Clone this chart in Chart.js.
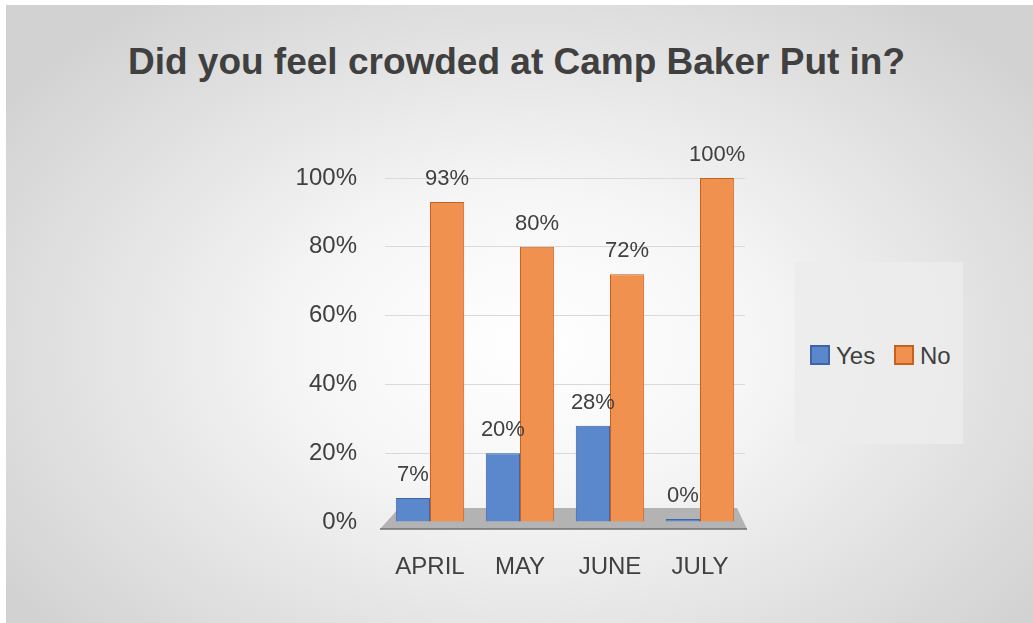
<!DOCTYPE html>
<html>
<head>
<meta charset="utf-8">
<script src="https://cdn.jsdelivr.net/npm/chart.js@4"></script>
<style>
  html, body { margin: 0; padding: 0; background: #fff; }
  #wrap {
    position: absolute; left: 6px; top: 5px; width: 1027px; height: 618px;
    background: radial-gradient(ellipse 62% 70% at 51% 55%, #ffffff 0%, #f6f6f6 35%, #d2d2d2 100%);
    font-family: "Liberation Sans", Arial, sans-serif;
  }
  #title {
    position: absolute; left: 0; top: 36px; width: 1033px; margin-left: -6px;
    text-align: center; font-weight: bold; font-size: 37px; color: #404040;
  }
  #legend {
    position: absolute; left: 789px; top: 257px; width: 168px; height: 182px;
    background: rgba(236, 236, 236, 0.85);
  }
  #legend .item { position: absolute; top: 82px; font-size: 24px; color: #404040; line-height: 24px; }
  #legend .box { display: inline-block; width: 16px; height: 16px; vertical-align: -1px; margin-right: 6px; border: 2px solid; }
  canvas { position: absolute; left: 0; top: 0; }
</style>
</head>
<body>
<div id="wrap">
  <div id="title">Did you feel crowded at Camp Baker Put in?</div>
  <div id="legend">
    <div class="item" style="left:15px"><span class="box" style="background:#5b87cc;border-color:#3d66a8"></span>Yes</div>
    <div class="item" style="left:99px"><span class="box" style="background:#f0914f;border-color:#c8601e"></span>No</div>
  </div>
</div>
<canvas id="c" width="1033" height="623"></canvas>
<script>
var months = ['APRIL', 'MAY', 'JUNE', 'JULY'];
var yesValues = [7, 20, 28, 0];
var noValues = [93, 80, 72, 100];
var seriesNames = ['Yes', 'No'];

// grey floor under the bars
var floorPlugin = {
  id: 'floor',
  beforeDatasetsDraw: function (chart) {
    var ctx = chart.ctx, a = chart.chartArea;
    var y0 = chart.scales.y.getPixelForValue(0);
    ctx.save();
    ctx.fillStyle = '#b3b3b3';
    ctx.beginPath();
    ctx.moveTo(a.left + 14, y0 - 14);
    ctx.lineTo(a.right - 8, y0 - 14);
    ctx.lineTo(a.right + 2, y0 + 7);
    ctx.lineTo(a.left - 5, y0 + 7);
    ctx.closePath();
    ctx.fill();
    ctx.strokeStyle = '#6f6f6f';
    ctx.lineWidth = 1.5;
    ctx.beginPath();
    ctx.moveTo(a.left - 5, y0 + 7);
    ctx.lineTo(a.right + 2, y0 + 7);
    ctx.stroke();
    ctx.restore();
  }
};

var labelPlugin = {
  id: 'valueLabels',
  afterDatasetsDraw: function (chart) {
    var ctx = chart.ctx;
    ctx.save();
    ctx.font = '22px "Liberation Sans", Arial, sans-serif';
    ctx.fillStyle = '#404040';
    ctx.textAlign = 'center';
    ctx.textBaseline = 'bottom';
    chart.data.datasets.forEach(function (ds, i) {
      chart.getDatasetMeta(i).data.forEach(function (bar, j) {
        ctx.fillText(ds.data[j] + '%', bar.x, bar.y - 12);
      });
    });
    ctx.restore();
  }
};

new Chart(document.getElementById('c'), {
  type: 'bar',
  data: {
    labels: months,
    datasets: [{
      label: seriesNames[0],
      data: yesValues,
      backgroundColor: '#5b87cc',
      borderColor: '#3d66a8',
      borderWidth: 1,
      minBarLength: 3
    }, {
      label: seriesNames[1],
      data: noValues,
      backgroundColor: '#f0914f',
      borderColor: '#c8601e',
      borderWidth: 1
    }]
  },
  options: {
    responsive: false,
    animation: false,
    events: [],
    layout: { padding: { left: 0, right: 288, top: 178, bottom: 41 } },
    datasets: { bar: { categoryPercentage: 0.76, barPercentage: 1.0 } },
    plugins: { legend: { display: false }, tooltip: { enabled: false } },
    scales: {
      x: {
        afterFit: function (s) { s.height = 60; },
        grid: { display: false, drawTicks: false },
        border: { display: false },
        ticks: { color: '#404040', padding: 31, font: { size: 24, family: '"Liberation Sans", Arial, sans-serif' } }
      },
      y: {
        min: 0, max: 100,
        afterFit: function (s) { s.width = 385; },
        grid: {
          drawTicks: false,
          color: function (c) { return c.tick && c.tick.value === 0 ? 'rgba(0,0,0,0)' : '#d9d9d9'; }
        },
        border: { display: false },
        ticks: {
          stepSize: 20,
          padding: 28,
          color: '#404040',
          font: { size: 24, family: '"Liberation Sans", Arial, sans-serif' },
          callback: function (v) { return v + '%'; }
        }
      }
    }
  },
  plugins: [floorPlugin, labelPlugin]
});
</script>
</body>
</html>
